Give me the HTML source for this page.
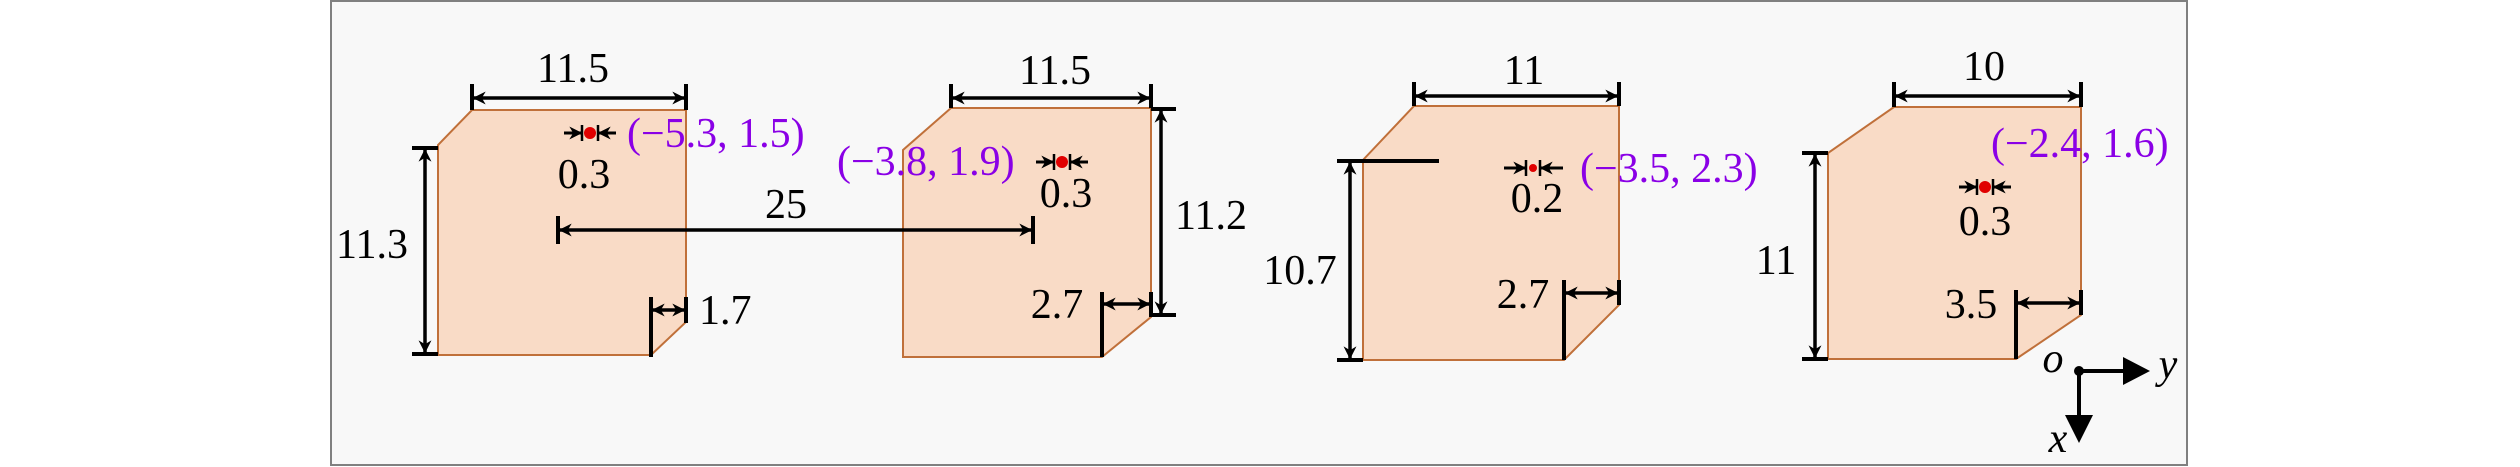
<!DOCTYPE html>
<html><head><meta charset="utf-8"><style>
html,body{margin:0;padding:0;background:#fff;}
svg{display:block;}
text{font-family:"Liberation Serif","DejaVu Serif",serif;font-size:42px;fill:#000;}
.p{fill:#8a00e6;}
.sh{fill:#f9dbc6;stroke:#c0703a;stroke-width:2;}
.d{stroke:#000;stroke-width:3.5;fill:none;}
.s{stroke:#000;stroke-width:3;fill:none;}
.t{stroke:#000;stroke-width:4;fill:none;}
</style></head><body>
<svg width="2520" height="467" viewBox="0 0 2520 467" xmlns="http://www.w3.org/2000/svg" font-family="Liberation Serif, DejaVu Serif, serif">
<defs>
<marker id="a" viewBox="0 0 10 10" refX="9" refY="5" markerWidth="13" markerHeight="13" orient="auto-start-reverse" markerUnits="userSpaceOnUse">
<path d="M0,0 L10,5 L0,10 L3,5 Z" fill="#000"/></marker>
</defs>
<rect x="331" y="1" width="1856" height="464" fill="#f8f8f8" stroke="#808080" stroke-width="2"/>

<!-- shapes -->
<path class="sh" d="M472,110 L686,110 L686,322 L651,355 L438,355 L438,145 Z"/>
<path class="sh" d="M951,108 L1151,108 L1151,317 L1102,357 L903,357 L903,150 Z"/>
<path class="sh" d="M1414,106 L1619,106 L1619,305 L1564,360 L1363,360 L1363,160 Z"/>
<path class="sh" d="M1894,107 L2081,107 L2081,315 L2016,359 L1828,359 L1828,153 Z"/>

<!-- Box 1 -->
<path class="t" d="M472,84 V110 M686,84 V110"/>
<path class="d" d="M474,98 H684" marker-start="url(#a)" marker-end="url(#a)"/>
<text x="573" y="82" text-anchor="middle">11.5</text>
<path class="t" d="M412,148 H438 M412,354 H438"/>
<path class="d" d="M425,150 V352" marker-start="url(#a)" marker-end="url(#a)"/>
<text x="372" y="258" text-anchor="middle">11.3</text>
<path class="t" d="M651,297 V357 M686,297 V323"/>
<path class="d" d="M653,310 H684" marker-start="url(#a)" marker-end="url(#a)"/>
<text x="699" y="324">1.7</text>
<path class="t" d="M558,216 V244 M1033,216 V244"/>
<path class="d" d="M560,230 H1031" marker-start="url(#a)" marker-end="url(#a)"/>
<text x="786" y="218" text-anchor="middle">25</text>
<circle cx="590" cy="133" r="6" fill="#e00000"/>
<path d="M582,125 V141 M598,125 V141" stroke="#000" stroke-width="2.5"/>
<path class="s" d="M564,133 H581" marker-end="url(#a)"/>
<path class="s" d="M616,133 H599" marker-end="url(#a)"/>
<text x="584" y="188" text-anchor="middle">0.3</text>
<text x="627" y="147" class="p">(−5.3, 1.5)</text>

<!-- Box 2 -->
<path class="t" d="M951,84 V108 M1151,84 V108"/>
<path class="d" d="M953,98 H1149" marker-start="url(#a)" marker-end="url(#a)"/>
<text x="1055" y="84" text-anchor="middle">11.5</text>
<path class="t" d="M1151,109 H1176 M1151,315 H1176"/>
<path class="d" d="M1161,111 V313" marker-start="url(#a)" marker-end="url(#a)"/>
<text x="1175" y="229">11.2</text>
<path class="t" d="M1102,292 V357 M1151,292 V317"/>
<path class="d" d="M1104,304 H1149" marker-start="url(#a)" marker-end="url(#a)"/>
<text x="1057" y="318" text-anchor="middle">2.7</text>
<circle cx="1062" cy="162" r="6" fill="#e00000"/>
<path d="M1054,154 V170 M1070,154 V170" stroke="#000" stroke-width="2.5"/>
<path class="s" d="M1036,162 H1053" marker-end="url(#a)"/>
<path class="s" d="M1088,162 H1071" marker-end="url(#a)"/>
<text x="1066" y="207" text-anchor="middle">0.3</text>
<text x="837" y="175" class="p">(−3.8, 1.9)</text>

<!-- Box 3 -->
<path class="t" d="M1414,82 V106 M1619,82 V106"/>
<path class="d" d="M1416,96 H1617" marker-start="url(#a)" marker-end="url(#a)"/>
<text x="1524" y="84" text-anchor="middle">11</text>
<path class="t" d="M1337,161 H1439 M1337,360 H1363"/>
<path class="d" d="M1350,163 V358" marker-start="url(#a)" marker-end="url(#a)"/>
<text x="1300" y="284" text-anchor="middle">10.7</text>
<path class="t" d="M1564,280 V360 M1619,280 V305"/>
<path class="d" d="M1566,293 H1617" marker-start="url(#a)" marker-end="url(#a)"/>
<text x="1523" y="308" text-anchor="middle">2.7</text>
<circle cx="1533" cy="168" r="4" fill="#e00000"/>
<path d="M1526,160 V176 M1540,160 V176" stroke="#000" stroke-width="2.5"/>
<path class="s" d="M1504,168 H1525" marker-end="url(#a)"/>
<path class="s" d="M1563,168 H1541" marker-end="url(#a)"/>
<text x="1537" y="212" text-anchor="middle">0.2</text>
<text x="1580" y="182" class="p">(−3.5, 2.3)</text>

<!-- Box 4 -->
<path class="t" d="M1894,82 V107 M2081,82 V107"/>
<path class="d" d="M1896,96 H2079" marker-start="url(#a)" marker-end="url(#a)"/>
<text x="1984" y="80" text-anchor="middle">10</text>
<path class="t" d="M1802,153 H1828 M1802,359 H1828"/>
<path class="d" d="M1815,155 V357" marker-start="url(#a)" marker-end="url(#a)"/>
<text x="1776" y="274" text-anchor="middle">11</text>
<path class="t" d="M2016,290 V359 M2081,290 V315"/>
<path class="d" d="M2018,303 H2079" marker-start="url(#a)" marker-end="url(#a)"/>
<text x="1971" y="318" text-anchor="middle">3.5</text>
<circle cx="1985" cy="187" r="6" fill="#e00000"/>
<path d="M1977,179 V195 M1993,179 V195" stroke="#000" stroke-width="2.5"/>
<path class="s" d="M1959,187 H1976" marker-end="url(#a)"/>
<path class="s" d="M2011,187 H1994" marker-end="url(#a)"/>
<text x="1985" y="235" text-anchor="middle">0.3</text>
<text x="1991" y="157" class="p">(−2.4, 1.6)</text>

<!-- Axes -->
<circle cx="2079" cy="371" r="5" fill="#000"/>
<path d="M2079,371 H2125" stroke="#000" stroke-width="4"/>
<path d="M2123,357 L2150,371 L2123,385 Z" fill="#000"/>
<path d="M2079,371 V417" stroke="#000" stroke-width="4"/>
<path d="M2065,415 L2079,443 L2093,415 Z" fill="#000"/>
<text x="2053" y="372" font-style="italic" text-anchor="middle">o</text>
<text x="2168" y="378" font-style="italic" text-anchor="middle">y</text>
<text x="2058" y="452" font-style="italic" text-anchor="middle">x</text>
</svg>
</body></html>
